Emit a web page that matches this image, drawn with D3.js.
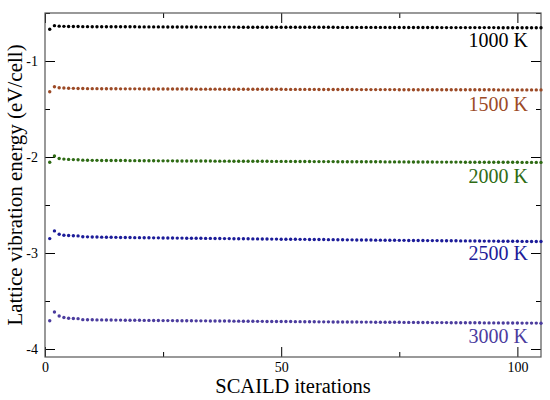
<!DOCTYPE html>
<html>
<head>
<meta charset="utf-8">
<script src="https://cdn.jsdelivr.net/npm/d3@7"></script>
<style>
  body { margin: 0; background: #fff; }
  svg text { font-family: "Times New Roman", "Liberation Serif", Times, serif; }
</style>
</head>
<body>
<svg id="chart"></svg>
<script>
const WIDTH = 550;
const HEIGHT = 400;

// iteration numbers 1..105
const iterations = d3.range(1, 106);

const temps = ['1000 K', '1500 K', '2000 K', '2500 K', '3000 K'];
const colors = ['#000000', '#9c4a26', '#2e6b14', '#1c1c99', '#4b3c9e'];

const e1000 = [
	-0.670, -0.632, -0.637, -0.639, -0.640, -0.641, -0.641, -0.642, -0.642, -0.643,
	-0.643, -0.643, -0.643, -0.643, -0.644, -0.644, -0.644, -0.644, -0.644, -0.645,
	-0.645, -0.645, -0.645, -0.645, -0.645, -0.646, -0.646, -0.646, -0.646, -0.646,
	-0.646, -0.646, -0.647, -0.647, -0.647, -0.647, -0.647, -0.647, -0.647, -0.647,
	-0.648, -0.648, -0.648, -0.648, -0.648, -0.648, -0.648, -0.648, -0.648, -0.648,
	-0.649, -0.649, -0.649, -0.649, -0.649, -0.649, -0.649, -0.649, -0.649, -0.649,
	-0.649, -0.650, -0.650, -0.650, -0.650, -0.650, -0.650, -0.650, -0.650, -0.650,
	-0.650, -0.650, -0.651, -0.651, -0.651, -0.651, -0.651, -0.651, -0.651, -0.651,
	-0.651, -0.651, -0.651, -0.652, -0.652, -0.652, -0.652, -0.652, -0.652, -0.652,
	-0.652, -0.652, -0.652, -0.652, -0.652, -0.653, -0.653, -0.653, -0.653, -0.653,
	-0.653, -0.653, -0.653, -0.653, -0.653
];
const e1500 = [
	-1.320, -1.268, -1.278, -1.282, -1.284, -1.285, -1.286, -1.287, -1.288, -1.288,
	-1.288, -1.289, -1.289, -1.289, -1.289, -1.290, -1.290, -1.290, -1.290, -1.290,
	-1.291, -1.291, -1.291, -1.291, -1.291, -1.292, -1.292, -1.292, -1.292, -1.292,
	-1.292, -1.293, -1.293, -1.293, -1.293, -1.293, -1.293, -1.294, -1.294, -1.294,
	-1.294, -1.294, -1.294, -1.295, -1.295, -1.295, -1.295, -1.295, -1.295, -1.295,
	-1.296, -1.296, -1.296, -1.296, -1.296, -1.296, -1.296, -1.297, -1.297, -1.297,
	-1.297, -1.297, -1.297, -1.297, -1.297, -1.298, -1.298, -1.298, -1.298, -1.298,
	-1.298, -1.298, -1.298, -1.298, -1.299, -1.299, -1.299, -1.299, -1.299, -1.299,
	-1.299, -1.299, -1.299, -1.299, -1.300, -1.300, -1.300, -1.300, -1.300, -1.300,
	-1.300, -1.300, -1.300, -1.300, -1.300, -1.301, -1.301, -1.301, -1.301, -1.301,
	-1.301, -1.301, -1.301, -1.301, -1.301
];
const e2000 = [
	-2.055, -1.990, -2.015, -2.022, -2.025, -2.027, -2.028, -2.033, -2.034, -2.035,
	-2.035, -2.036, -2.036, -2.036, -2.037, -2.037, -2.037, -2.038, -2.038, -2.038,
	-2.039, -2.039, -2.039, -2.040, -2.040, -2.040, -2.040, -2.041, -2.041, -2.041,
	-2.041, -2.042, -2.042, -2.042, -2.042, -2.043, -2.043, -2.043, -2.043, -2.044,
	-2.044, -2.044, -2.044, -2.045, -2.045, -2.045, -2.045, -2.046, -2.046, -2.046,
	-2.046, -2.046, -2.047, -2.047, -2.047, -2.047, -2.048, -2.048, -2.048, -2.048,
	-2.048, -2.049, -2.049, -2.049, -2.049, -2.049, -2.050, -2.050, -2.050, -2.050,
	-2.050, -2.051, -2.051, -2.051, -2.051, -2.051, -2.052, -2.052, -2.052, -2.052,
	-2.052, -2.052, -2.053, -2.053, -2.053, -2.053, -2.053, -2.053, -2.054, -2.054,
	-2.054, -2.054, -2.054, -2.054, -2.055, -2.055, -2.055, -2.055, -2.055, -2.055,
	-2.056, -2.056, -2.056, -2.056, -2.056
];
const e2500 = [
	-2.850, -2.770, -2.805, -2.815, -2.818, -2.820, -2.822, -2.830, -2.832, -2.833,
	-2.834, -2.835, -2.836, -2.836, -2.837, -2.838, -2.838, -2.839, -2.840, -2.840,
	-2.841, -2.841, -2.842, -2.842, -2.843, -2.844, -2.844, -2.845, -2.845, -2.846,
	-2.846, -2.847, -2.847, -2.848, -2.848, -2.849, -2.849, -2.850, -2.850, -2.851,
	-2.851, -2.852, -2.852, -2.853, -2.853, -2.854, -2.854, -2.855, -2.855, -2.856,
	-2.856, -2.857, -2.857, -2.858, -2.858, -2.859, -2.859, -2.860, -2.860, -2.861,
	-2.861, -2.862, -2.862, -2.863, -2.863, -2.864, -2.864, -2.865, -2.865, -2.866,
	-2.866, -2.867, -2.867, -2.867, -2.868, -2.868, -2.869, -2.869, -2.870, -2.870,
	-2.871, -2.871, -2.871, -2.872, -2.872, -2.873, -2.873, -2.874, -2.874, -2.874,
	-2.875, -2.875, -2.876, -2.876, -2.876, -2.877, -2.877, -2.878, -2.878, -2.878,
	-2.879, -2.879, -2.880, -2.880, -2.880
];
const e3000 = [
	-3.705, -3.615, -3.656, -3.672, -3.680, -3.682, -3.684, -3.694, -3.695, -3.696,
	-3.697, -3.697, -3.698, -3.698, -3.699, -3.699, -3.700, -3.700, -3.701, -3.701,
	-3.702, -3.702, -3.703, -3.703, -3.704, -3.704, -3.704, -3.705, -3.705, -3.706,
	-3.706, -3.707, -3.707, -3.707, -3.708, -3.708, -3.709, -3.709, -3.709, -3.710,
	-3.710, -3.711, -3.711, -3.711, -3.712, -3.712, -3.713, -3.713, -3.713, -3.714,
	-3.714, -3.714, -3.715, -3.715, -3.716, -3.716, -3.716, -3.717, -3.717, -3.717,
	-3.718, -3.718, -3.718, -3.719, -3.719, -3.719, -3.720, -3.720, -3.720, -3.721,
	-3.721, -3.721, -3.722, -3.722, -3.722, -3.723, -3.723, -3.723, -3.724, -3.724,
	-3.724, -3.725, -3.725, -3.725, -3.725, -3.726, -3.726, -3.726, -3.727, -3.727,
	-3.727, -3.727, -3.728, -3.728, -3.728, -3.728, -3.729, -3.729, -3.729, -3.729,
	-3.730, -3.730, -3.730, -3.730, -3.731
];
const energies = [e1000, e1500, e2000, e2500, e3000];

// label anchor values (baseline of each series label, in data units)
const labelY = [-0.855, -1.52, -2.27, -3.073, -3.938];

const xMajor = [0, 50, 100];
const xMinor = [25, 75];
const yMajor = [-1, -2, -3, -4];
const yMinor = [-0.5, -1.5, -2.5, -3.5];

const margin = {top: 13, right: 9, bottom: 43, left: 45};
const plotW = WIDTH - margin.left - margin.right;
const plotH = HEIGHT - margin.top - margin.bottom;

const svg = d3.select('#chart')
	.attr('width', WIDTH)
	.attr('height', HEIGHT);

const g = svg.append('g')
	.attr('transform', `translate(${margin.left},${margin.top})`);

const x = d3.scaleLinear().domain([0, 105]).range([0, plotW]);
const y = d3.scaleLinear().domain([-0.5, -4.0833]).range([0, plotH]);

const fmt = d => String(d);
const FONT = '"Times New Roman", "Liberation Serif", Times, serif';

// major + minor ticks, pointing inward, mirrored on all sides
const addAxis = (axisFn, scale, values, size, transform, labels) => {
	const a = g.append('g')
		.attr('transform', transform)
		.call(axisFn(scale).tickValues(values).tickSize(-size)
			.tickPadding(labels ? 7 : 0)
			.tickFormat(labels ? fmt : ''));
	a.attr('font-family', FONT);
	a.select('.domain').remove();
	a.selectAll('line').attr('stroke', '#000');
	a.selectAll('text')
		.attr('fill', '#000')
		.style('font-size', '14px');
	return a;
};

addAxis(d3.axisLeft, y, yMajor, 10, null, true);
addAxis(d3.axisLeft, y, yMinor, 5, null, false);
addAxis(d3.axisRight, y, yMajor, 10, `translate(${plotW},0)`, false);
addAxis(d3.axisRight, y, yMinor, 5, `translate(${plotW},0)`, false);
const xa = addAxis(d3.axisBottom, x, xMajor, 10, `translate(0,${plotH})`, true);
xa.selectAll('text').attr('y', 5);
addAxis(d3.axisBottom, x, xMinor, 5, `translate(0,${plotH})`, false);
addAxis(d3.axisTop, x, xMajor, 10, null, false);
addAxis(d3.axisTop, x, xMinor, 5, null, false);

g.append('rect')
	.attr('width', plotW)
	.attr('height', plotH)
	.attr('fill', 'none')
	.attr('stroke', '#555')
	.attr('stroke-width', 1.2);

// series dots
energies.forEach((series, i) => {
	g.append('g')
		.selectAll('circle')
		.data(series)
		.enter()
		.append('circle')
		.attr('cx', (d, j) => x(iterations[j]))
		.attr('cy', d => y(d))
		.attr('r', 1.7)
		.attr('fill', colors[i]);

	g.append('text')
		.attr('x', plotW - 13)
		.attr('y', y(labelY[i]))
		.attr('text-anchor', 'end')
		.attr('fill', colors[i])
		.style('font-family', FONT)
		.style('font-size', '20px')
		.text(temps[i]);
});

svg.append('text')
	.attr('x', margin.left + plotW / 2)
	.attr('y', 393)
	.attr('text-anchor', 'middle')
	.style('font-family', FONT)
	.style('font-size', '20.5px')
	.text('SCAILD iterations');

svg.append('text')
	.attr('transform', `translate(22,${margin.top + plotH / 2}) rotate(-90)`)
	.attr('text-anchor', 'middle')
	.style('font-family', FONT)
	.style('font-size', '21px')
	.text('Lattice vibration energy (eV/cell)');
</script>
</body>
</html>
